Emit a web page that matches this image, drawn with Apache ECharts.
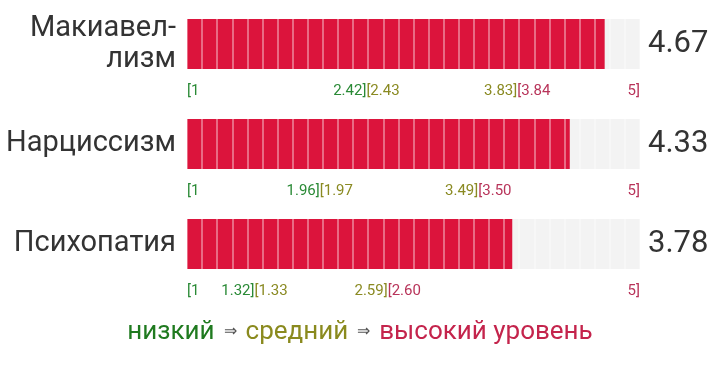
<!DOCTYPE html>
<html>
<head>
<meta charset="utf-8">
<script src="https://cdn.jsdelivr.net/npm/echarts@6/dist/echarts.min.js"></script>
<style>
html,body{margin:0;padding:0;background:#fff;}
#chart{width:720px;height:369px;}
</style>
</head>
<body>
<div id="chart"></div>
<script>
// ---- data ----
const categories = ['Макиавел-\nлизм', 'Нарциссизм', 'Психопатия'];
const scores = [4.67, 4.33, 3.78];
const fillShare = [0.922, 0.845, 0.718];      // filled share of the track
const cellCount = 30;                          // number of cells in each track
const scaleMin = '1';
const scaleMax = '5';
const lowUpper = ['2.42', '1.96', '1.32'];
const midLower = ['2.43', '1.97', '1.33'];
const midUpper = ['3.83', '3.49', '2.59'];
const highLower = ['3.84', '3.50', '2.60'];
const lowMidSplit = [0.396, 0.293, 0.149];    // where the low/mid label pair meets (share of track)
const midHighSplit = [0.729, 0.643, 0.443];   // where the mid/high label pair meets (share of track)
const legendWords = ['низкий', 'средний', 'высокий уровень'];

// ---- styles ----
const FONT = 'Roboto, "Noto Sans", sans-serif';
const GREEN = '#2a8a36', OLIVE = '#8a8a22', CRIMSON = '#b8345a';
const BAR = '#dc143c', TRACK = '#f3f3f3';

const grids = [], xAxes = [], yAxes = [], series = [];
categories.forEach((cat, i) => {
  grids.push({left: 187, right: 80, top: 19 + 100 * i, height: 50});
  xAxes.push({
    type: 'value', gridIndex: i, min: 0, max: cellCount, interval: 1, z: 10,
    axisLabel: {show: false}, axisLine: {show: false}, axisTick: {show: false},
    splitLine: {show: true, lineStyle: {color: 'rgba(255,255,255,0.5)', width: 1.5}}
  });
  yAxes.push({
    type: 'category', gridIndex: i, data: [cat],
    axisLine: {show: false}, axisTick: {show: false}, splitLine: {show: false},
    axisLabel: {fontFamily: FONT, fontSize: 29, color: '#333', margin: 11, lineHeight: 31, align: 'right'}
  });
  series.push({
    type: 'bar', xAxisIndex: i, yAxisIndex: i, barWidth: 50, barGap: '-100%', silent: true,
    data: [cellCount], itemStyle: {color: TRACK},
    label: {show: true, position: 'right', distance: 8, fontFamily: FONT, fontSize: 31, color: '#333',
            formatter: () => scores[i].toFixed(2)}
  });
  series.push({
    type: 'bar', xAxisIndex: i, yAxisIndex: i, barWidth: 50, barGap: '-100%', silent: true,
    data: [fillShare[i] * cellCount], itemStyle: {color: BAR}
  });
  const labels = [
    {pos: 0, text: '[' + scaleMin, align: 'left', color: GREEN},
    {pos: lowMidSplit[i] * cellCount, text: lowUpper[i] + ']', align: 'right', color: GREEN},
    {pos: lowMidSplit[i] * cellCount, text: '[' + midLower[i], align: 'left', color: OLIVE},
    {pos: midHighSplit[i] * cellCount, text: midUpper[i] + ']', align: 'right', color: OLIVE},
    {pos: midHighSplit[i] * cellCount, text: '[' + highLower[i], align: 'left', color: CRIMSON},
    {pos: cellCount, text: scaleMax + ']', align: 'right', color: CRIMSON}
  ];
  series.push({
    type: 'custom', xAxisIndex: i, yAxisIndex: i, silent: true, z: 20,
    data: labels.map(l => [l.pos, 0]),
    renderItem: (params, api) => {
      const l = labels[params.dataIndex];
      const p = api.coord([api.value(0), 0]);
      return {
        type: 'text', x: p[0], y: p[1] + 47,
        style: {text: l.text, fill: l.color, font: '15px ' + FONT, textAlign: l.align, textVerticalAlign: 'middle'}
      };
    }
  });
});

const chart = echarts.init(document.getElementById('chart'), null, {renderer: 'canvas'});
chart.setOption({
  animation: false,
  backgroundColor: '#fff',
  grid: grids, xAxis: xAxes, yAxis: yAxes, series: series,
  title: {
    left: 'center', top: 314,
    text: '{g|' + legendWords[0] + '} {a|⇒} {o|' + legendWords[1] + '} {a|⇒} {r|' + legendWords[2] + '}',
    textStyle: {
      fontWeight: 'normal',
      rich: {
        g: {fontFamily: FONT, fontSize: 26, fontWeight: 'normal', color: '#1f7a1f'},
        o: {fontFamily: FONT, fontSize: 26, fontWeight: 'normal', color: '#8a8a1e'},
        r: {fontFamily: FONT, fontSize: 26, fontWeight: 'normal', color: '#c4244c'},
        a: {fontFamily: FONT, fontSize: 16, fontWeight: 'normal', color: '#555', padding: [0, 4, 0, 4]}
      }
    }
  }
});
</script>
</body>
</html>
